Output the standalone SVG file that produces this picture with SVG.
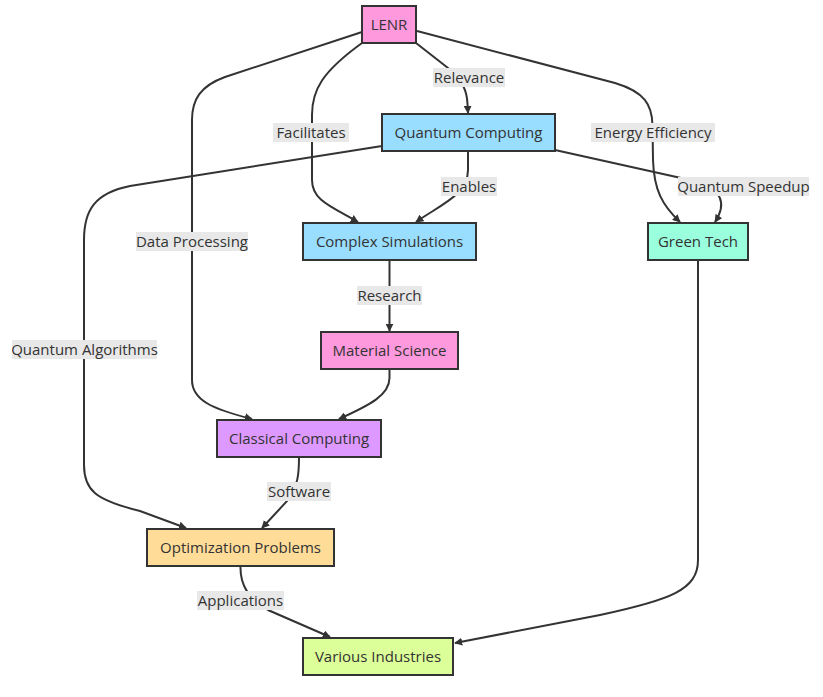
<svg xmlns="http://www.w3.org/2000/svg" width="823" height="697" viewBox="0 0 823 697">
<style>
.n rect{stroke:#333;stroke-width:2}
text{font-family:"Open Sans","DejaVu Sans",sans-serif;font-size:15px;fill:#333;text-anchor:middle}
.e path{fill:none;stroke:#333;stroke-width:2}
.l rect{fill:#e8e8e8}
</style>
<defs>
<marker id="ah" viewBox="0 0 10 10" refX="9" refY="5" markerUnits="userSpaceOnUse" markerWidth="8" markerHeight="8" orient="auto">
<path d="M0,0 L10,5 L0,10 z" fill="#333"/>
</marker>
</defs>
<rect width="823" height="697" fill="#fff"/>
<g id="edges" class="e">
<path d="M416,43 L448,68 C464,82 467,92 467.5,104 L468,113" marker-end="url(#ah)"/>
<path d="M362,43 C322,72 312,90 312,115 L312,180 C312,200 330,206 358,222" marker-end="url(#ah)"/>
<path d="M417,31 L615,83 C645,92 652,105 652.5,125 L653,160 C654,190 662,205 680,222" marker-end="url(#ah)"/>
<path d="M362,32 L225,77 C200,86 192,100 192,120 L192,380 C192,400 212,409 252,419" marker-end="url(#ah)"/>
<path d="M468,151 L468,170 C468,195 440,205 416,222" marker-end="url(#ah)"/>
<path d="M555,150 L690,180 C725,188 726,205 715,222" marker-end="url(#ah)"/>
<path d="M382,146 L130,186 C95,193 84,210 84,240 L84,465 C84,490 95,500 140,511 L186,528" marker-end="url(#ah)"/>
<path d="M389.5,260 L389.5,331" marker-end="url(#ah)"/>
<path d="M389.5,369 L389.5,378 C389.5,395 370,405 339,419" marker-end="url(#ah)"/>
<path d="M299,457 C299,475 298,485 288,500 L262,528" marker-end="url(#ah)"/>
<path d="M240.5,566 C240,585 248,598 268,610 L330,637" marker-end="url(#ah)"/>
<path d="M698,260 L698,560 C698,590 670,600 600,615 L455,643" marker-end="url(#ah)"/>
</g>
<g id="labels" class="l">
<g><rect x="433" y="68" width="72" height="19"/><text x="469" y="82.5">Relevance</text></g>
<g><rect x="273" y="123" width="76" height="19"/><text x="311" y="137.5">Facilitates</text></g>
<g><rect x="591" y="123" width="124" height="19"/><text x="653" y="137.5">Energy Efficiency</text></g>
<g><rect x="136" y="232" width="112" height="19"/><text x="192" y="246.5">Data Processing</text></g>
<g><rect x="441" y="177" width="56" height="19"/><text x="469" y="191.5">Enables</text></g>
<g><rect x="678" y="177" width="131" height="19"/><text x="743.5" y="191.5">Quantum Speedup</text></g>
<g><rect x="12" y="340" width="145" height="19"/><text x="84.5" y="354.5">Quantum Algorithms</text></g>
<g><rect x="357" y="286" width="65" height="19"/><text x="389.5" y="300.5">Research</text></g>
<g><rect x="267" y="482" width="64" height="19"/><text x="299" y="496.5">Software</text></g>
<g><rect x="197" y="591" width="87" height="19"/><text x="240.5" y="605.5">Applications</text></g>
</g>
<g id="LENR" class="n"><rect x="362" y="6" width="54" height="37" fill="#ff99dd"/><text x="389" y="29.5">LENR</text></g>
<g id="QuantumComputing" class="n"><rect x="382" y="114" width="173" height="37" fill="#99ddff"/><text x="468.5" y="137.5">Quantum Computing</text></g>
<g id="ComplexSimulations" class="n"><rect x="303" y="223" width="173" height="37" fill="#99ddff"/><text x="389.5" y="246.5">Complex Simulations</text></g>
<g id="GreenTech" class="n"><rect x="648" y="223" width="100" height="37" fill="#99ffdd"/><text x="698" y="246.5">Green Tech</text></g>
<g id="MaterialScience" class="n"><rect x="321" y="332" width="137" height="37" fill="#ff99dd"/><text x="389.5" y="355.5">Material Science</text></g>
<g id="ClassicalComputing" class="n"><rect x="217" y="420" width="164" height="37" fill="#dd99ff"/><text x="299" y="443.5">Classical Computing</text></g>
<g id="OptimizationProblems" class="n"><rect x="147" y="529" width="187" height="37" fill="#ffdd99"/><text x="240.5" y="552.5">Optimization Problems</text></g>
<g id="VariousIndustries" class="n"><rect x="303" y="638" width="150" height="37" fill="#ddff99"/><text x="378" y="661.5">Various Industries</text></g>
</svg>
